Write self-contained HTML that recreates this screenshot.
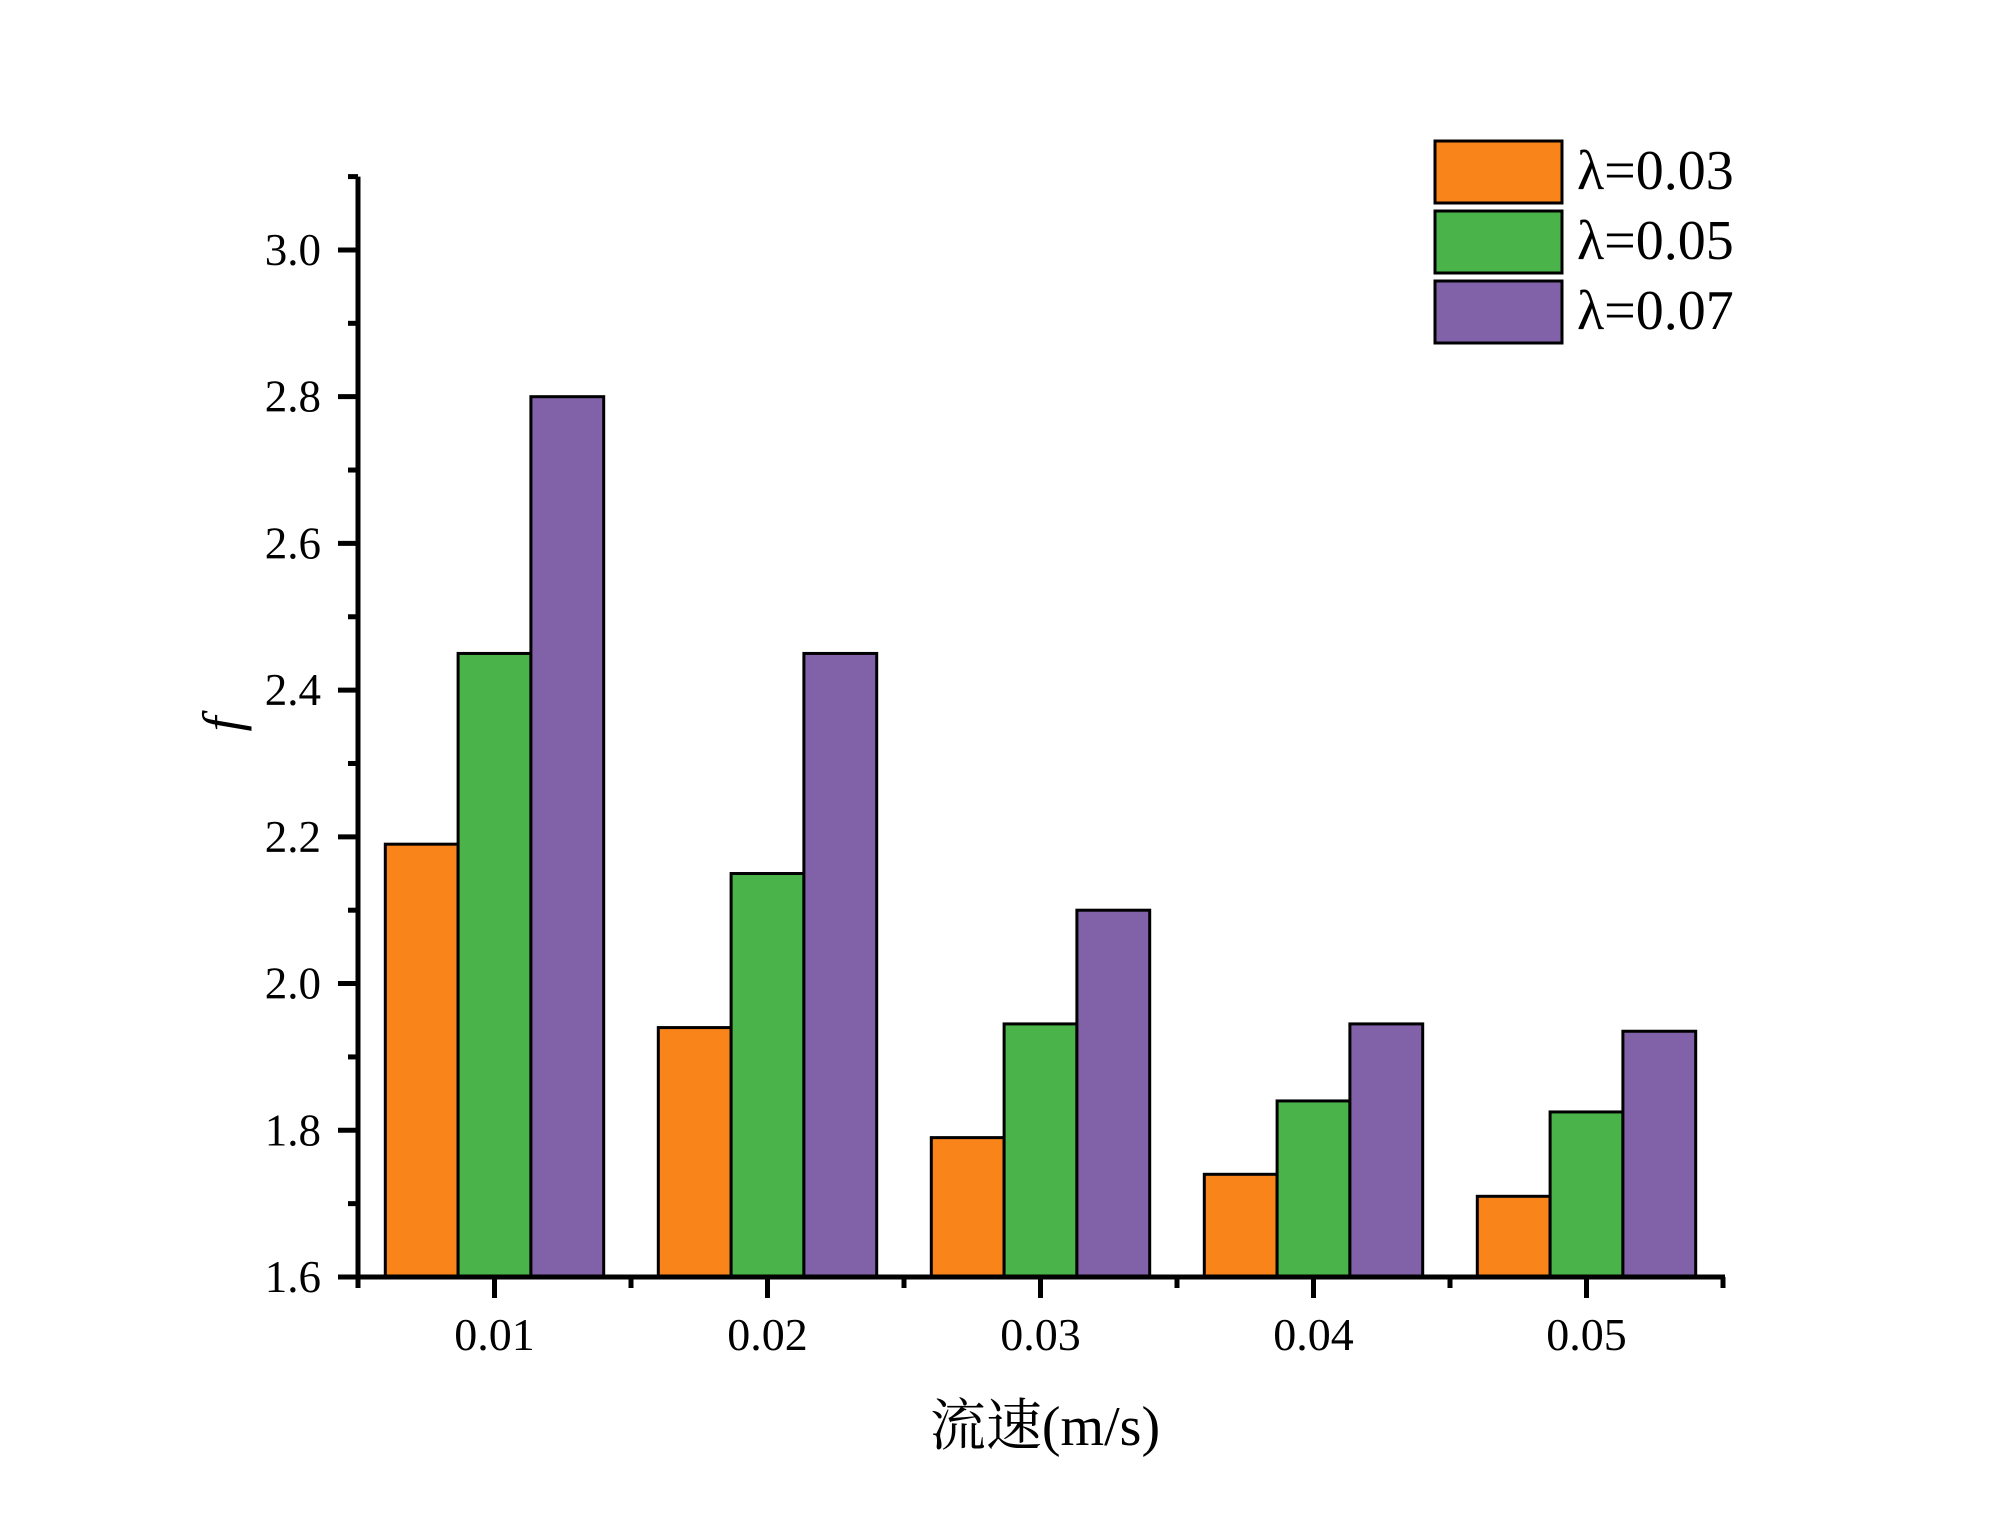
<!DOCTYPE html>
<html><head><meta charset="utf-8"><style>
html,body{margin:0;padding:0;background:#fff;}
svg{display:block;font-family:"Liberation Serif","Noto Serif CJK SC",serif;}
</style></head><body>
<svg id="chart" width="2000" height="1530" viewBox="0 0 2000 1530">
<g id="bars"></g>
<g id="axes"></g>
<text x="1045" y="1445" font-size="56" text-anchor="middle">流速(m/s)</text>
<text transform="translate(240,724) rotate(-90)" font-size="54" font-style="italic" text-anchor="middle">f</text>
<g id="legend"></g>
</svg>
<script>
const categories = ["0.01","0.02","0.03","0.04","0.05"];
const seriesNames = ["λ=0.03","λ=0.05","λ=0.07"];
const s1 = [2.19,1.94,1.79,1.74,1.71];
const s2 = [2.45,2.15,1.945,1.84,1.825];
const s3 = [2.80,2.45,2.10,1.945,1.935];
const yTicks = ["1.6","1.8","2.0","2.2","2.4","2.6","2.8","3.0"];
const colors = ["#F8841A","#4AB44A","#8161A8"];
const series=[s1,s2,s3];
const NS="http://www.w3.org/2000/svg";
const X0=358,X1=1723,Y0=1277,YMIN=1.6,YMAX=3.1,YTOP=1277-1.5*733.6;
const catW=(X1-X0)/categories.length;
function y(v){return Y0-(v-YMIN)/(YMAX-YMIN)*(Y0-YTOP);}
function xc(i){return X0+catW*(i+0.5);}
function mk(t,a,p){const e=document.createElementNS(NS,t);for(const k in a)e.setAttribute(k,a[k]);p.appendChild(e);return e;}
const bars=document.getElementById('bars'),axes=document.getElementById('axes'),leg=document.getElementById('legend');
const bw=catW*0.8/3;
series.forEach((s,si)=>s.forEach((v,i)=>{
 const x=xc(i)-catW*0.4+si*bw;
 const r=mk('rect',{x:x,y:y(v),width:bw,height:Y0-y(v),fill:colors[si],stroke:'#000','stroke-width':3},bars);
 
 
}));
const ya=mk('line',{x1:X0,y1:YTOP,x2:X0,y2:Y0+2,stroke:'#000','stroke-width':5},axes);


const xa=mk('line',{x1:X0-2,y1:Y0,x2:X1+2,y2:Y0,stroke:'#000','stroke-width':5},axes);


for(let v=YMIN;v<=YMAX+1e-6;v+=0.1){
 const major=Math.round(v*10)%2===0;
 mk('line',{x1:X0-(major?20:10),y1:y(v),x2:X0,y2:y(v),stroke:'#000','stroke-width':5},axes);
}
yTicks.forEach(t=>{
 const e=mk('text',{x:321,y:y(+t)+15,'font-size':45,'text-anchor':'end'},axes);
 e.textContent=t;
 
 
});
for(let i=0;i<=categories.length;i++){const x=X0+catW*i;mk('line',{x1:x,y1:Y0,x2:x,y2:Y0+11,stroke:'#000','stroke-width':5},axes);}
categories.forEach((c,i)=>{
 mk('line',{x1:xc(i),y1:Y0,x2:xc(i),y2:Y0+21,stroke:'#000','stroke-width':5},axes);
 const e=mk('text',{x:xc(i),y:1350,'font-size':46,'text-anchor':'middle'},axes);
 e.textContent=c;
 
 
});
seriesNames.forEach((n,i)=>{
 const yy=141+i*70;
 const r=mk('rect',{x:1435,y:yy,width:127,height:62,fill:colors[i],stroke:'#000','stroke-width':3},leg);
 
 
 const t=mk('text',{x:1577,y:yy+48,'font-size':56},leg);
 t.textContent=n;
 
 
});
</script>
</body></html>
